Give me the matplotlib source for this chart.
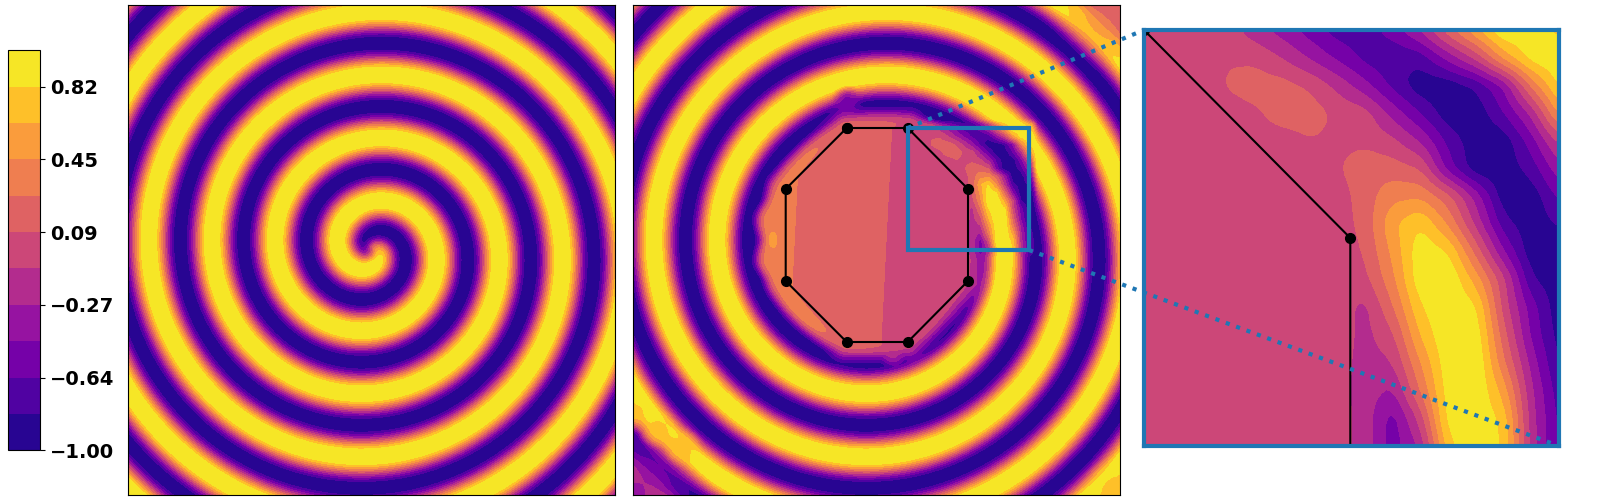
# plot.py - spiral wave field, the same field with an octagon patch, and a zoomed inset
import matplotlib
matplotlib.use('Agg')
import matplotlib.pyplot as plt
import numpy as np
from matplotlib.patches import ConnectionPatch, Rectangle

# All lengths are reference pixels, measured from a panel's top left corner.
PANEL_W = 487.0
PANEL_H = 490.0
SPIRAL_CENTER = (243.5, 245.0)

# Radii of the bands on the ray pointing left from the spiral centre.
# NOTE: the spiral field itself is a model (cosine of a phase fitted to these radii),
# too many cells to read one by one.
CREST_RADII = [32.5, 95.5, 159.5, 223.5]
TROUGH_RADII = [64.5, 127.5, 190.5, 253.0]
# Set so that the top band is about 15 px wide and the bottom band about 14 px
BAND_GAIN = 1.1
BAND_BIAS = 0.03

LEVELS = np.linspace(-1, 1, 12)
TICK_VALUES = [-1.0, -0.636, -0.273, 0.091, 0.455, 0.818]
TICK_LABELS = ['\u22121.00', '\u22120.64', '\u22120.27', '0.09', '0.45', '0.82']

OCT_X = [213.7, 274.7, 335.0, 335.0, 274.7, 213.7, 152.7, 152.7]
OCT_Y = [123.0, 123.0, 184.0, 276.0, 337.0, 337.0, 276.0, 184.0]

# Inside the octagon the field is a plane: the 0.09 contour runs through these points
PLANE_LINE_X = [258.7, 248.0]
PLANE_LINE_Y = [123.0, 337.0]
PLANE_VALUE = 0.0909
PLANE_SLOPE = -0.00198
EDGE_BLEND = 28.0

# Zoom window on the middle panel
ZOOM_X = [274.7, 396.0]
ZOOM_Y = [123.0, 245.0]

# Field values, rows top to bottom
ZOOM_GRID = [
    [0, 0, 0, 0, -.2, -.36, -.55, -.73, -.73, -.55, -.25, .2, .6, 1, .95, .75],
    [0, 0, 0, .08, .05, -.1, -.3, -.5, -.7, -.8, -.75, -.4, -.05, .5, .9, 1],
    [0, 0, 0, .1, .18, .16, .06, -.15, -.4, -.7, -.95, -.95, -.8, -.45, .3, .85],
    [0, 0, 0, 0, .05, .18, .18, .05, -.02, -.35, -.65, -.95, -.95, -.65, -.25, .5],
    [0, 0, 0, 0, 0, 0, .08, .05, .05, -.05, -.3, -.7, -.95, -.95, -.55, -.05],
    [0, 0, 0, 0, 0, 0, 0, .07, .2, .18, .08, -.55, -.95, -.95, -.75, -.35],
    [0, 0, 0, 0, 0, 0, 0, 0, .18, .4, .42, .15, -.35, -.95, -.95, -.6],
    [0, 0, 0, 0, 0, 0, 0, 0, .15, .6, .82, .42, -.15, -.75, -.95, -.8],
    [0, 0, 0, 0, 0, 0, 0, 0, .1, .5, .95, .82, .2, -.45, -.95, -.95],
    [0, 0, 0, 0, 0, 0, 0, 0, .03, .4, .95, 1, .55, -.05, -.8, -.95],
    [0, 0, 0, 0, 0, 0, 0, 0, -.15, .25, .8, 1, .85, 0, -.55, -.95],
    [0, 0, 0, 0, 0, 0, 0, 0, -.15, .05, .65, 1, .95, .15, -.5, -.9],
    [0, 0, 0, 0, 0, 0, 0, 0, -.18, -.1, .45, .95, 1, .3, -.35, -.85],
    [0, 0, 0, 0, 0, 0, 0, 0, -.2, -.3, .28, .92, 1, .55, -.25, -.75],
    [0, 0, 0, 0, 0, 0, 0, 0, -.18, -.55, -.02, .9, 1, .75, -.2, -.7],
    [0, 0, 0, 0, 0, 0, 0, 0, -.18, -.55, -.25, .75, 1, .8, -.18, -.7],
]

# Local corrections on the middle panel, applied in order: where, how wide, which value
PATCH_X = [487.0, 487.0, 487.0, 0.0, 2.0, 25.0, 49.0, 214.0, 260.0, 138.0, 138.0]
PATCH_Y = [0.0, 0.0, 490.0, 490.0, 408.0, 425.0, 442.0, 95.0, 353.0, 215.0, 255.0]
PATCH_R = [80.0, 25.0, 45.0, 85.0, 22.0, 22.0, 22.0, 18.0, 14.0, 24.0, 24.0]
PATCH_V = [0.35, 0.2, 0.7, -0.35, 0.72, 0.72, 0.72, -0.5, -0.5, 0.38, 0.38]


def spiral_field(x, y):
    radii = np.array(CREST_RADII + TROUGH_RADII)
    turns = np.array([2 * i * np.pi for i in range(4)] + [(2 * i + 1) * np.pi for i in range(4)])
    slope, offset = np.polyfit(radii, turns, 1)

    dx = x - SPIRAL_CENTER[0]
    dy = SPIRAL_CENTER[1] - y
    r = np.hypot(dx, dy)
    theta = np.arctan2(dy, dx)
    wave = np.tanh(r * slope) * np.cos(slope * r + offset + theta - np.pi)
    return np.clip(BAND_GAIN * wave + BAND_BIAS, -0.999, 0.999)


def octagon_distance(x, y):
    """Distance to the octagon outline, and a mask of the cells inside."""
    dist = np.full(x.shape, np.inf)
    inside = np.ones(x.shape, dtype=bool)
    for i in range(len(OCT_X)):
        x0, y0 = OCT_X[i], OCT_Y[i]
        x1, y1 = OCT_X[(i + 1) % len(OCT_X)], OCT_Y[(i + 1) % len(OCT_Y)]
        ex, ey = x1 - x0, y1 - y0
        t = np.clip(((x - x0) * ex + (y - y0) * ey) / (ex ** 2 + ey ** 2), 0, 1)
        dist = np.minimum(dist, np.hypot(x - x0 - t * ex, y - y0 - t * ey))
        inside &= (ex * (y - y0) - ey * (x - x0)) >= 0
    return dist, inside


def smoothstep(s):
    s = np.clip(s, 0, 1)
    return s * s * (3 - 2 * s)


def upsample_zoom(x, y):
    """Bilinear lookup in the inset grid."""
    grid = np.array(ZOOM_GRID, dtype=float)
    gx = np.clip((x - ZOOM_X[0]) / (ZOOM_X[1] - ZOOM_X[0]) * (grid.shape[1] - 1), 0, grid.shape[1] - 1.001)
    gy = np.clip((y - ZOOM_Y[0]) / (ZOOM_Y[1] - ZOOM_Y[0]) * (grid.shape[0] - 1), 0, grid.shape[0] - 1.001)
    ix, iy = gx.astype(int), gy.astype(int)
    fx, fy = gx - ix, gy - iy
    return (grid[iy, ix] * (1 - fx) * (1 - fy) + grid[iy, ix + 1] * fx * (1 - fy)
            + grid[iy + 1, ix] * (1 - fx) * fy + grid[iy + 1, ix + 1] * fx * fy)


def box_blur(values, size):
    """Plain box blur, to take the corners off the coarse grid."""
    pad = size // 2
    kernel = np.ones(size) / size
    padded = np.pad(values, pad, mode='edge')
    for axis in (0, 1):
        padded = np.apply_along_axis(np.convolve, axis, padded, kernel, mode='same')
    return padded[pad:-pad, pad:-pad]


def patched_field(x, y):
    """The spiral with the octagon plane, the local corrections and the inset values."""
    base = spiral_field(x, y)
    for px, py, pr, pv in zip(PATCH_X, PATCH_Y, PATCH_R, PATCH_V):
        w = smoothstep(np.hypot(x - px, y - py) / pr)
        base = w * base + (1 - w) * pv

    line_x = np.interp(y, PLANE_LINE_Y, PLANE_LINE_X)
    plane = PLANE_VALUE + PLANE_SLOPE * (x - line_x)
    dist, inside = octagon_distance(x, y)
    w = smoothstep(dist / EDGE_BLEND)
    field = np.where(inside, plane, w * base + (1 - w) * plane)

    # Over the zoom window use the values
    gap_x = np.maximum(np.maximum(ZOOM_X[0] - x, x - ZOOM_X[1]), 0)
    gap_y = np.maximum(np.maximum(ZOOM_Y[0] - y, y - ZOOM_Y[1]), 0)
    w = smoothstep(np.hypot(gap_x, gap_y) / 10.0)
    return np.where(inside, plane, w * field + (1 - w) * upsample_zoom(x, y))


def panel_axes(fig, left, top, right, bottom):
    return fig.add_axes([left / 1600, 1 - bottom / 500, (right - left) / 1600, (bottom - top) / 500])


x_grid, y_grid = np.meshgrid(np.arange(0, PANEL_W + 1), np.arange(0, PANEL_H + 1))

fig = plt.figure(figsize=(16, 5), dpi=100)

# Left panel
ax_left = panel_axes(fig, 128, 5, 615, 495)
cf = ax_left.contourf(x_grid, y_grid, spiral_field(x_grid, y_grid), levels=LEVELS, cmap='plasma')

# Middle panel
ax_mid = panel_axes(fig, 633, 5, 1120, 495)
ax_mid.contourf(x_grid, y_grid, patched_field(x_grid, y_grid), levels=LEVELS, cmap='plasma')

ax_zoom = panel_axes(fig, 1144, 30, 1559, 446)
zoom_x, zoom_y = np.meshgrid(np.linspace(ZOOM_X[0], ZOOM_X[1], 121), np.linspace(ZOOM_Y[0], ZOOM_Y[1], 121))
ax_zoom.contourf(zoom_x, zoom_y, box_blur(upsample_zoom(zoom_x, zoom_y), 5), levels=LEVELS, cmap='plasma')

closed_x = OCT_X + OCT_X[:1]
closed_y = OCT_Y + OCT_Y[:1]
for ax in (ax_mid, ax_zoom):
    ax.plot(closed_x, closed_y, color='black', lw=1.5, marker='o', ms=7)

ax_mid.add_patch(Rectangle((ZOOM_X[0], ZOOM_Y[0]), ZOOM_X[1] - ZOOM_X[0], ZOOM_Y[1] - ZOOM_Y[0],
                           fill=False, edgecolor='tab:blue', lw=3, zorder=5))

for ax in (ax_left, ax_mid):
    ax.set_xlim(0, PANEL_W)
    ax.set_ylim(PANEL_H, 0)
    ax.set_xticks([])
    ax.set_yticks([])

ax_zoom.set_xlim(ZOOM_X)
ax_zoom.set_ylim(ZOOM_Y[1], ZOOM_Y[0])
ax_zoom.set_xticks([])
ax_zoom.set_yticks([])
for spine in ax_zoom.spines.values():
    spine.set_edgecolor('tab:blue')
    spine.set_linewidth(3)

# Dotted lines from the zoom window to the inset corners
for corner in [(ZOOM_X[0], ZOOM_Y[0]), (ZOOM_X[1], ZOOM_Y[1])]:
    con = ConnectionPatch(xyA=corner, coordsA=ax_mid.transData, xyB=corner, coordsB=ax_zoom.transData,
                          color='tab:blue', lw=3, linestyle=':', capstyle='butt')
    fig.add_artist(con)

# Colorbar
cax = panel_axes(fig, 8.3, 50.3, 40.3, 450.3)
cbar = fig.colorbar(cf, cax=cax)
cbar.set_ticks(TICK_VALUES)
cbar.set_ticklabels(TICK_LABELS)
for label in cbar.ax.get_yticklabels():
    label.set_fontsize(14)
    label.set_fontweight('bold')

fig.savefig('out.png', dpi=100)
